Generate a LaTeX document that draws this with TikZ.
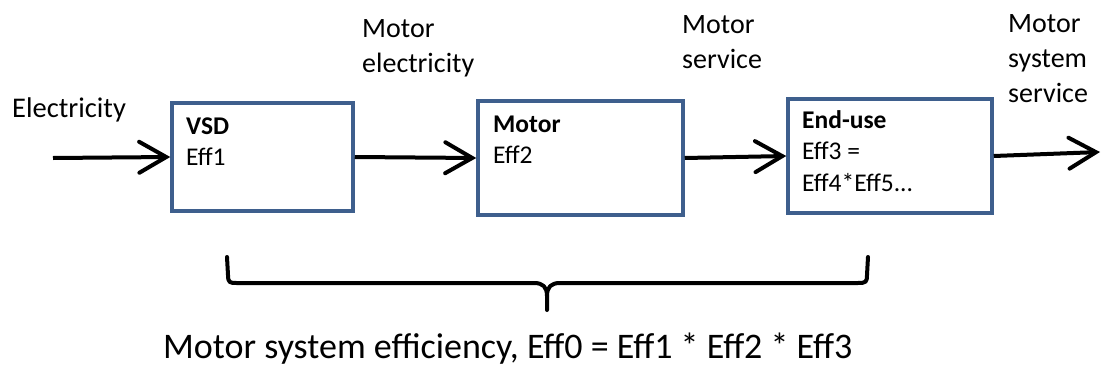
\documentclass[tikz,border=0pt]{standalone}
\usepackage{fontspec}
\setmainfont{Carlito}
\usetikzlibrary{arrows.meta}
\definecolor{boxblue}{HTML}{3E5F8D}
\tikzset{
  blk/.style={draw=boxblue, line width=3.5pt, rectangle, inner sep=0pt},
  flow/.style={line width=4pt, -{Straight Barb[length=27pt,width=31pt,line cap=round]}},
  lbl/.style={inner sep=0pt, anchor=base west, align=left, font=\fontsize{28}{35}\selectfont},
  intext/.style={inner sep=0pt, anchor=base west, align=left, font=\fontsize{25.5}{31}\selectfont},
  brace/.style={line width=4pt, line cap=round, line join=round}
}
\begin{document}
\begin{tikzpicture}[x=1pt,y=-1pt]
\useasboundingbox (0,0) rectangle (1101,367);
% boxes
\node[blk, minimum width=181pt, minimum height=108pt] (vsd) at (262.5,157) {};
\node[blk, minimum width=205pt, minimum height=114pt] (motor) at (580.5,158) {};
\node[blk, minimum width=204pt, minimum height=114pt] (enduse) at (890,156) {};
% box texts (base = last line)
\node[intext] (vsdt) at (186,165) {\textbf{VSD}\\Eff1};
\node[intext] (motort) at (493,163) {\textbf{Motor}\\Eff2};
\node[intext, font=\fontsize{25.5}{31.5}\selectfont] (enduset) at (802,191) {\textbf{End-use}\\Eff3 =\\Eff4*Eff5...};
% labels
\node[lbl, font=\fontsize{28.5}{35}\selectfont] (lelec) at (12,117) {Electricity};
\node[lbl] (lmelec) at (362,72) {Motor\\electricity};
\node[lbl] (lmserv) at (682,68) {Motor\\service};
\node[lbl] (lmsys) at (1008,102) {Motor\\system\\service};
% flows
\coordinate (in) at (53,158);
\coordinate (out) at (1100,152);
\draw[flow] (in) -- (vsd.west);
\draw[flow] (vsd.east) -- (motor.west);
\draw[flow] (motor.east) -- (enduse.west);
\draw[flow] (enduse.east) -- (out);
% brace
\coordinate (bl) at (227,257);
\coordinate (bm) at (547,310);
\coordinate (br) at (868,257);
\draw[brace] (bl) -- (228,275) .. controls (228,283) and (230,283) .. (237,283)
  -- (534,283) .. controls (543,283) and (547,287) .. (547,296) -- (bm);
\draw[brace] (547,296) .. controls (547,287) and (551,283) .. (560,283)
  -- (858,283) .. controls (866,283) and (867,282) .. (867,275) -- (br);
\node[inner sep=0pt, anchor=base west, font=\fontsize{36}{44}\selectfont] (total) at (163,358)
  {Motor system efficiency, Eff0 = Eff1 * Eff2 * Eff3};
\end{tikzpicture}
\end{document}
